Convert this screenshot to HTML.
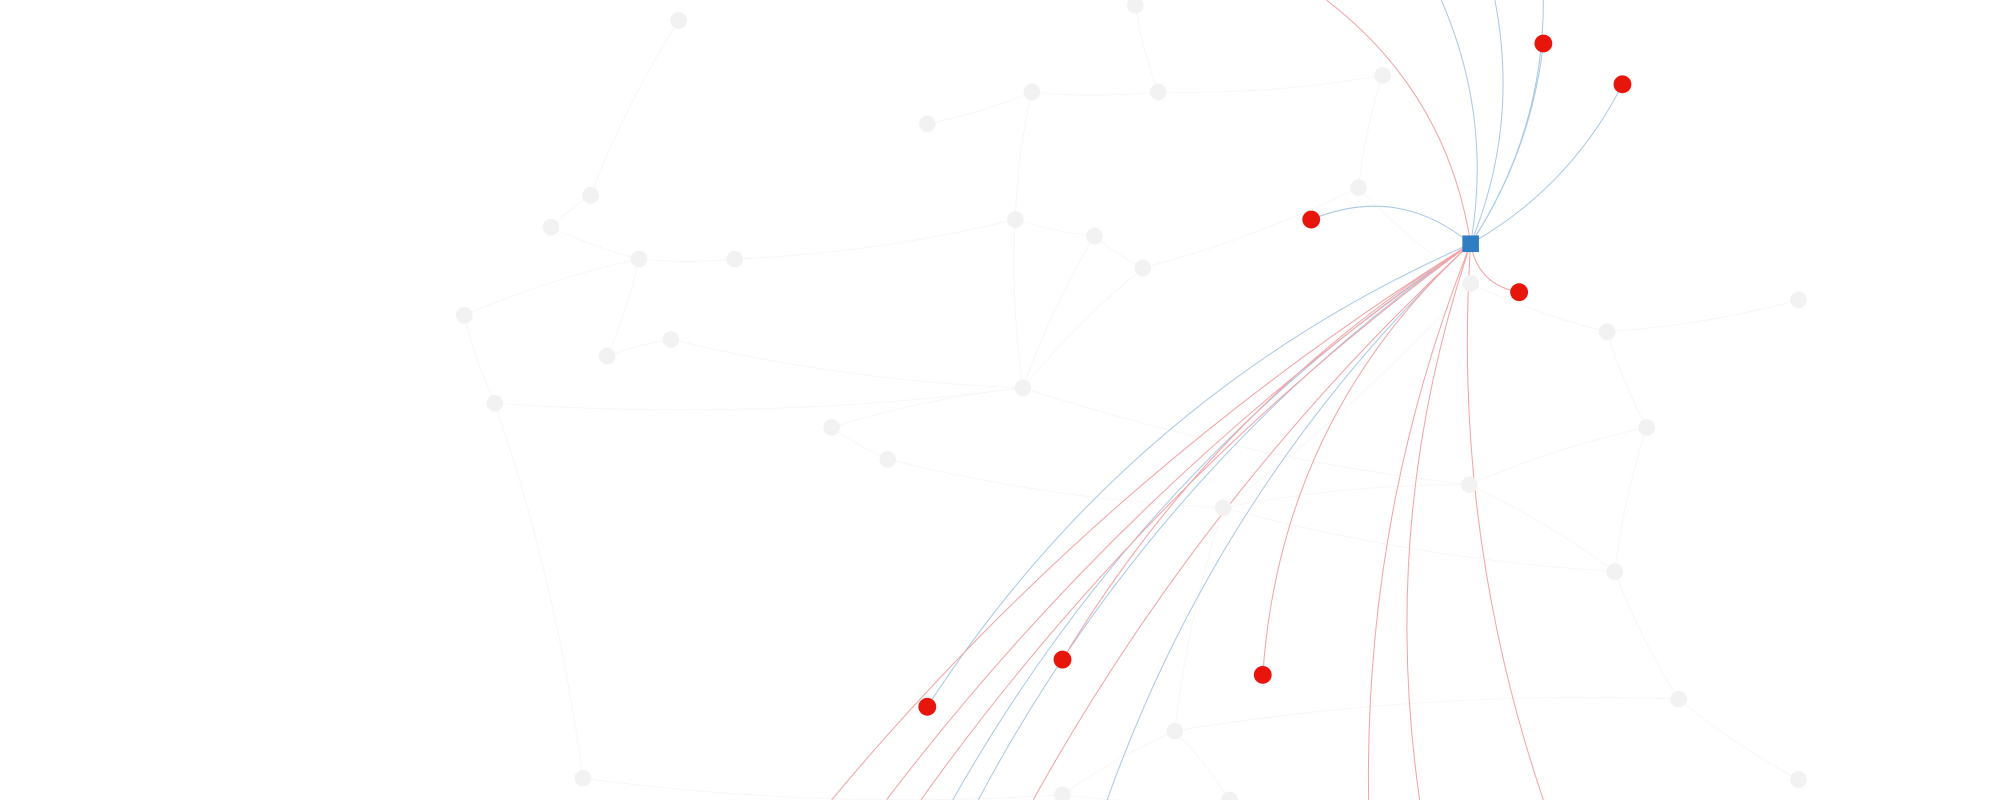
<!DOCTYPE html>
<html><head><meta charset="utf-8"><style>html,body{margin:0;padding:0;background:#fff;overflow:hidden}svg{display:block}</style></head>
<body>
<svg id="g" width="2000" height="800" viewBox="0 0 1568 627" xmlns="http://www.w3.org/2000/svg">
<g id="bg-edges"></g><g id="hub-edges"></g><g id="nodes"></g>
</svg>
<script>
const hub = [1153, 191];
const grayNodes = [[532,16],[890,4],[809,72],[908,72],[1084,59],[727,97],[463,153],[432,178],[501,203],[576,203],[796,172],[858,185],[896,210],[1065,147],[364,247],[526,266],[476,279],[388,316],[802,304],[652,335],[696,360],[1152,380],[959,398],[1153,222],[1260,260],[1410,235],[1291,335],[1266,448],[1316,548],[921,573],[457,610],[833,623],[964,627],[1410,611]];
const bgEdges = [[0,6],[2,3],[2,10],[3,4],[5,2],[6,7],[7,8],[8,9],[8,14],[9,10],[10,11],[11,12],[11,18],[12,13],[14,17],[15,16],[16,8],[17,18],[18,19],[19,20],[18,21],[21,22],[22,23],[23,24],[24,25],[24,26],[26,27],[27,28],[28,33],[27,21],[22,29],[29,31],[30,31],[31,32],[32,29],[30,17],[20,22],[12,18],[4,13],[13,23],[10,18],[28,29],[22,27],[1,3],[15,18],[26,21]];
const redNodes = [[1210,34],[1272,66],[1028,172],[1191,229],[833,517],[990,529],[727,554]];
const blueTargets = [[1130,0],[1172,0],[1210,0],[1210,34],[1272,66],[1028,172],[727,554],[747,627],[767,627],[868,627]];
const blueBend = [0.15,0.15,0.15,0.12,0.15,0.3,0.15,0.12,0.12,0.12];
const redTargets = [[1040,0],[1191,229],[990,529],[833,517],[652,627],[695,627],[722,627],[810,627],[1073,627],[1113,627],[1210,627]];
const redBend = [0.2,0.35,0.2,0.12,0.08,0.08,0.08,0.08,0.1,0.12,0.1];
const NS='http://www.w3.org/2000/svg';
function curve(a,b,k){const mx=(a[0]+b[0])/2,my=(a[1]+b[1])/2,dx=b[0]-a[0],dy=b[1]-a[1];return `M${a[0]},${a[1]} Q${mx-dy*k},${my+dx*k} ${b[0]},${b[1]}`;}
const bg=document.getElementById('bg-edges'),he=document.getElementById('hub-edges'),nd=document.getElementById('nodes');
bgEdges.forEach(e=>{const p=document.createElementNS(NS,'path');


p.setAttribute('d',curve(grayNodes[e[0]],grayNodes[e[1]],0.05));p.setAttribute('stroke','#f5f5f5');p.setAttribute('stroke-width','0.6');p.setAttribute('fill','none');bg.appendChild(p);});
blueTargets.forEach((t,i)=>{const p=document.createElementNS(NS,'path');


p.setAttribute('d',curve(hub,t,blueBend[i]));p.setAttribute('stroke','#a9c8e6');p.setAttribute('stroke-width','0.8');p.setAttribute('fill','none');he.appendChild(p);});
redTargets.forEach((t,i)=>{const p=document.createElementNS(NS,'path');


p.setAttribute('d',curve(hub,t,redBend[i]));p.setAttribute('stroke','#f4a3a3');p.setAttribute('stroke-width','0.8');p.setAttribute('fill','none');he.appendChild(p);});
grayNodes.forEach(n=>{const c=document.createElementNS(NS,'circle');


c.setAttribute('cx',n[0]);c.setAttribute('cy',n[1]);c.setAttribute('r','6.5');c.setAttribute('fill','#f2f2f2');nd.appendChild(c);});
redNodes.forEach(n=>{const c=document.createElementNS(NS,'circle');


c.setAttribute('cx',n[0]);c.setAttribute('cy',n[1]);c.setAttribute('r','7');c.setAttribute('fill','#e8150c');nd.appendChild(c);});
const h=document.createElementNS(NS,'rect');


h.setAttribute('x',hub[0]-6.5);h.setAttribute('y',hub[1]-6.5);h.setAttribute('width','13');h.setAttribute('height','13');h.setAttribute('fill','#2f7ec1');nd.appendChild(h);
</script>
</body></html>
